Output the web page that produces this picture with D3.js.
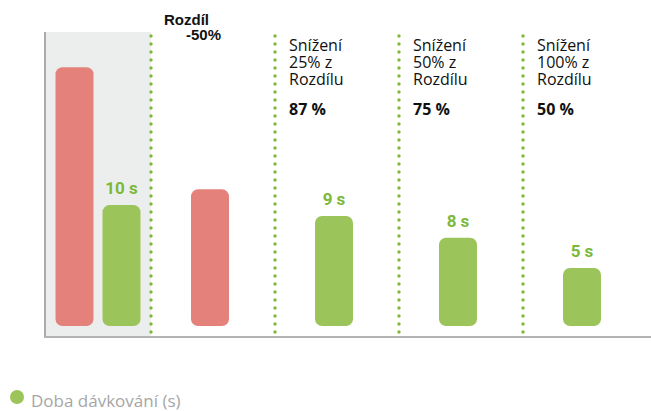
<!DOCTYPE html>
<html>
<head>
<meta charset="utf-8">
<script src="https://cdn.jsdelivr.net/npm/d3@7"></script>
<style>
  body { margin: 0; background: #fff; }
  svg { display: block; }
</style>
</head>
<body>
<svg width="651" height="411"></svg>
<script>
// Data
var groups = ["start", "diff", "s25", "s50", "s100"];
var barGroups = ["start", "start", "diff", "s25", "s50", "s100"];
var barSeries = ["ref", "dose", "ref", "dose", "dose", "dose"];
var barValues = [21.4, 10, 11.3, 9.1, 7.3, 4.8];
var barLabels = ["", "10 s", "", "9 s", "8 s", "5 s"];
var diffLines = ["Rozdíl", "-50%"];
var noteGroups = ["s25", "s50", "s100"];
var noteLines = [["Snížení", "25% z", "Rozdílu"], ["Snížení", "50% z", "Rozdílu"], ["Snížení", "100% z", "Rozdílu"]];
var notePercents = ["87 %", "75 %", "50 %"];
var legendLabel = "Doba dávkování (s)";

var svg = d3.select("svg");

var axisLeft = 45, axisRight = 651, axisTop = 32, axisBottom = 337;
var barBase = 326;
var barWidth = 38, barStep = 47;

var colors = { ref: "#e4817b", dose: "#9bc45a" };
var labelGreen = "#7cb93a";

// Scales
var xScale = d3.scaleBand().domain(groups).range([24, 644]).padding(0);
var yScale = d3.scaleLinear().domain([0, 22]).range([barBase, 60]);

// grey panel behind the first group
svg.append("rect")
    .attr("x", axisLeft)
    .attr("y", axisTop)
    .attr("width", xScale("diff") - axisLeft + 3)
    .attr("height", axisBottom - axisTop)
    .attr("fill", "#eceeed");

// axis lines
svg.append("line")
    .attr("x1", axisLeft).attr("x2", axisLeft)
    .attr("y1", axisTop).attr("y2", axisBottom + 1)
    .attr("stroke", "#ababab").attr("stroke-width", 2);
svg.append("line")
    .attr("x1", axisLeft - 1).attr("x2", axisRight)
    .attr("y1", axisBottom).attr("y2", axisBottom)
    .attr("stroke", "#b3b3b3").attr("stroke-width", 2);

// dotted separators
svg.selectAll(".sep")
    .data(groups.slice(1))
    .enter().append("line")
    .attr("class", "sep")
    .attr("x1", d => xScale(d) + 3).attr("x2", d => xScale(d) + 3)
    .attr("y1", 36).attr("y2", 333)
    .attr("stroke", "#7cb93a")
    .attr("stroke-width", 3.4)
    .attr("stroke-linecap", "round")
    .attr("stroke-dasharray", "0 8");

// bars
var bars = barValues.map((v, i) => {
    var g = barGroups[i];
    var members = barGroups.filter(d => d === g).length;
    var idx = barGroups.slice(0, i).filter(d => d === g).length;
    var cx = xScale(g) + xScale.bandwidth() / 2 + (idx - (members - 1) / 2) * barStep;
    if (members > 1) cx += 12;
    return { value: v, series: barSeries[i], label: barLabels[i], cx: cx };
});

svg.selectAll(".bar")
    .data(bars)
    .enter().append("rect")
    .attr("class", "bar")
    .attr("x", d => d.cx - barWidth / 2)
    .attr("y", d => yScale(d.value))
    .attr("width", barWidth)
    .attr("height", d => yScale(0) - yScale(d.value))
    .attr("rx", 7).attr("ry", 7)
    .attr("fill", d => colors[d.series]);

svg.selectAll(".val")
    .data(bars.filter(d => d.label))
    .enter().append("text")
    .attr("class", "val")
    .attr("x", d => d.cx)
    .attr("y", d => yScale(d.value) - 11)
    .attr("text-anchor", "middle")
    .style("font-family", "Roboto, sans-serif")
    .style("font-weight", "bold")
    .style("font-size", "17px")
    .style("fill", labelGreen)
    .text(d => d.label);

// "Rozdíl -50%"
var diffX = xScale("diff") + 3;
svg.append("text")
    .attr("x", diffX + 13).attr("y", 25)
    .style("font-family", "'Liberation Sans', Arial, sans-serif")
    .style("font-weight", "bold").style("font-size", "15px")
    .style("fill", "#111")
    .text(diffLines[0]);
svg.append("text")
    .attr("x", diffX + 35).attr("y", 40)
    .style("font-family", "'Liberation Sans', Arial, sans-serif")
    .style("font-weight", "bold").style("font-size", "15px")
    .style("fill", "#111")
    .text(diffLines[1]);

// notes
noteGroups.forEach((g, i) => {
    var nx = xScale(g) + 3 + 14;
    noteLines[i].forEach((line, j) => {
        svg.append("text")
            .attr("x", nx).attr("y", 51 + j * 17)
            .style("font-family", "'Open Sans', sans-serif")
            .style("font-size", "16px")
            .style("fill", "#111")
            .text(line);
    });
    svg.append("text")
        .attr("x", nx).attr("y", 115)
        .style("font-family", "'Open Sans', sans-serif")
        .style("font-weight", "bold")
        .style("font-size", "16px")
        .style("fill", "#111")
        .text(notePercents[i]);
});

// legend
svg.append("circle")
    .attr("cx", 17).attr("cy", 397).attr("r", 7)
    .attr("fill", colors.dose);
svg.append("text")
    .attr("x", 31).attr("y", 407)
    .style("font-family", "'Open Sans', sans-serif")
    .style("font-size", "17px")
    .style("fill", "#a6a6a6")
    .text(legendLabel);
</script>
</body>
</html>
